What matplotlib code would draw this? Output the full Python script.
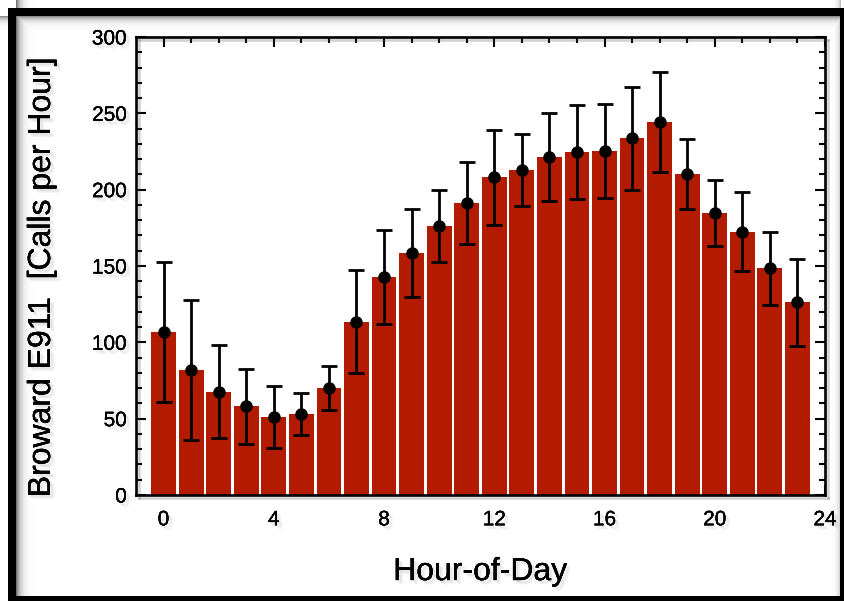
import numpy as np
import matplotlib
matplotlib.use("Agg")
import matplotlib.pyplot as plt
import matplotlib.patheffects as pe
from matplotlib.patches import Rectangle

# Hourly call volume (mean and spread) for Broward E911
hours = list(range(24))
mean_calls = [106.6, 82.1, 67.6, 58.2, 51.2, 53.2, 69.8, 113.6,
              142.8, 158.4, 176.2, 191.1, 208.1, 212.9, 221.3, 224.6,
              225.4, 233.7, 244.5, 210.5, 184.5, 172.5, 148.4, 126.1]
spread_calls = [45.9, 45.8, 30.4, 24.6, 20.2, 13.8, 14.4, 34.0,
                31.0, 29.0, 23.4, 26.9, 31.3, 23.8, 28.9, 31.0,
                30.8, 33.8, 32.8, 22.9, 21.6, 25.8, 23.9, 28.3]
x_ticks = [0, 4, 8, 12, 16, 20, 24]
y_ticks = [0, 50, 100, 150, 200, 250, 300]

plt.rcParams['font.family'] = ['Liberation Sans', 'DejaVu Sans']

W, H = 844, 601
fig = plt.figure(figsize=(W / 100, H / 100), dpi=100)

# Soft drop shadow used on text
def soft_shadow(alpha=0.06):
    return [pe.withSimplePatchShadow(offset=(o, -o), shadow_rgbFace='0.3', alpha=alpha)
            for o in (1.5, 2.3, 3.1)] + [pe.Normal()]

# Background layer: black window frame with an inner shade
bg = fig.add_axes([0, 0, 1, 1], zorder=-5)
bg.set_xlim(0, W)
bg.set_ylim(H, 0)
bg.axis('off')
yy, xx = np.mgrid[0:H, 0:W]
shade = np.zeros((H, W))
dl = xx - 16.0
dt = yy - 16.0
shade = np.maximum(shade, np.where(dl >= 0, 0.55 * np.exp(-dl / 4.0), 0))
shade = np.maximum(shade, np.where(dt >= 0, 0.45 * np.exp(-dt / 3.5), 0))
dr = 840.0 - xx
shade = np.maximum(shade, np.where((dr >= 0) & (dr < 10), 0.25 * np.exp(-dr / 2.5), 0))
rgba = np.zeros((H, W, 4))
rgba[..., 3] = shade
bg.imshow(rgba, extent=(0, W, H, 0), interpolation='bilinear', aspect='auto')
for (x0, y0, w, h) in [(8, 8, W - 8, 8), (8, 8, 8, H - 8), (840, 8, 4, H - 8), (8, 596, W - 8, 5)]:
    bg.add_patch(Rectangle((x0, y0), w, h, facecolor='black', edgecolor='none'))

ax = fig.add_axes([136 / W, 1 - 495 / H, (825 - 136) / W, (495 - 37) / H])

ax.bar(hours, mean_calls, width=0.9, color='#B31B00', edgecolor='none', zorder=2)
ax.errorbar(hours, mean_calls, yerr=spread_calls, fmt='o', color='black',
            ms=8, elinewidth=2.0, capsize=5.8, capthick=2.0, zorder=3)

ax.set_xlim(-1, 24)
ax.set_ylim(0, 300)
ax.set_xticks(x_ticks)
ax.set_yticks(y_ticks)
ax.set_xticks(hours, minor=True)
ax.set_yticks(np.arange(0, 301, 10), minor=True)
ax.tick_params(which='both', direction='in', top=True, right=True,
               width=1.5, labelsize=15, zorder=4)
ax.tick_params(which='major', length=7.5)
ax.tick_params(which='minor', length=4.5)
ax.tick_params(axis='y', pad=6.5)
ax.tick_params(axis='x', pad=11)

for sp in ax.spines.values():
    sp.set_linewidth(1.9)
    sp.set_zorder(5)
    sp.set_path_effects([pe.SimpleLineShadow(offset=(2.5, -2.5), shadow_color='0.3', alpha=0.25),
                         pe.Normal()])

for lab in ax.get_xticklabels() + ax.get_yticklabels():
    lab.set_path_effects(soft_shadow())

ax.set_xlabel('Hour-of-Day', fontsize=23, labelpad=20)
ax.set_ylabel('Broward E911  [Calls per Hour]', fontsize=23)
ax.yaxis.set_label_coords(-0.1147, 0.476)
ax.xaxis.label.set_path_effects(soft_shadow())
ax.yaxis.label.set_path_effects(soft_shadow())

fig.savefig('out.png', dpi=100)
